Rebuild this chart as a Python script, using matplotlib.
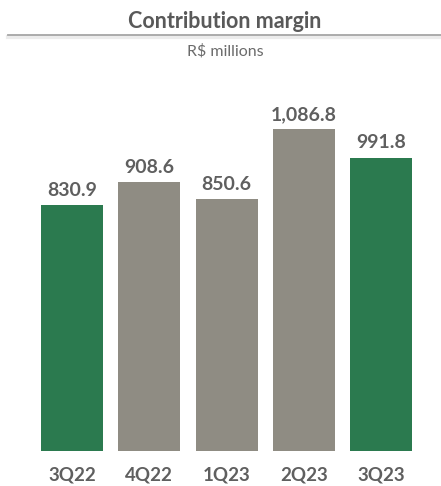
import matplotlib.pyplot as plt
from matplotlib.lines import Line2D

quarters = ['3Q22', '4Q22', '1Q23', '2Q23', '3Q23']
margin = [830.9, 908.6, 850.6, 1086.8, 991.8]
labels = ['830.9', '908.6', '850.6', '1,086.8', '991.8']
colors = ['#2b7a4f', '#8f8c83', '#8f8c83', '#8f8c83', '#2b7a4f']

plt.rcParams['font.family'] = ['Lato', 'DejaVu Sans']

fig = plt.figure(figsize=(4.41, 4.86), dpi=100)
ax = fig.add_axes([33.4 / 441, 35 / 486, 386.5 / 441, 355 / 486])

x = range(len(quarters))
ax.bar(x, margin, width=0.8, color=colors)
for i, v in enumerate(margin):
    ax.text(i, v + 22, labels[i], ha='center', va='bottom', fontsize=14,
            fontweight='bold', color='#5f5f5f')

ax.set_xlim(-0.5, 4.5)
ax.set_ylim(0, 1200)
ax.set_xticks(list(x))
ax.set_xticklabels(quarters, fontsize=13.5, fontweight='bold', color='#5f5f5f')
ax.tick_params(axis='x', length=0, pad=11)
ax.set_yticks([])
for s in ax.spines.values():
    s.set_visible(False)

# header
fig.text(0.51, 1 - 22 / 486, 'Contribution margin', ha='center', va='center',
         fontsize=15.5, fontweight='bold', color='#595959')
fig.add_artist(Line2D([8 / 441, 1], [1 - 37 / 486] * 2, color='#ececec', lw=3))
fig.add_artist(Line2D([8 / 441, 1], [1 - 35.5 / 486] * 2, color='#a6a6a6', lw=1.3))
fig.text(0.51, 1 - 51 / 486, 'R$ millions', ha='center', va='center',
         fontsize=11.5, color='#6b6b6b')

plt.savefig('out.png', dpi=100)
